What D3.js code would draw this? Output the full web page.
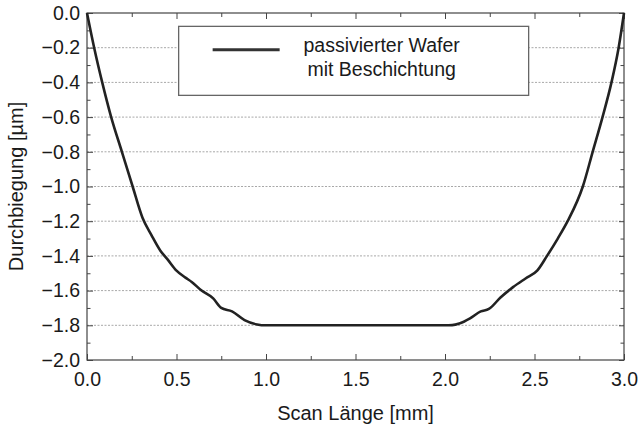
<!DOCTYPE html>
<html>
<head>
<meta charset="utf-8">
<script src="https://cdn.jsdelivr.net/npm/d3@7"></script>
<style>
  body { margin: 0; background: #fff; }
  text { font-family: "Liberation Sans", Arial, sans-serif; fill: #1a1a1a; }
</style>
</head>
<body>
<div id="chart"></div>
<script>
// scan position [mm] and deflection [µm]
const scanX = [0, 0.04, 0.085, 0.135, 0.195, 0.255, 0.31, 0.36, 0.41, 0.45, 0.5, 0.55, 0.585, 0.64, 0.705, 0.75, 0.81, 0.88, 0.95, 1.0,
               2.0, 2.04, 2.08, 2.14, 2.2, 2.245, 2.31, 2.38, 2.45, 2.515, 2.57, 2.63, 2.685, 2.77, 2.825, 2.88, 2.93, 2.97, 3.0];
const deflection = [0, -0.2, -0.4, -0.6, -0.8, -1.0, -1.18, -1.28, -1.37, -1.42, -1.485, -1.525, -1.55, -1.6, -1.645, -1.7, -1.72, -1.77, -1.795, -1.8,
                    -1.8, -1.799, -1.79, -1.76, -1.72, -1.706, -1.64, -1.58, -1.53, -1.485, -1.4, -1.3, -1.2, -1.0, -0.8, -0.6, -0.4, -0.2, 0];
const xTicks = [0, 0.5, 1.0, 1.5, 2.0, 2.5, 3.0];
const yTicks = [0, -0.2, -0.4, -0.6, -0.8, -1.0, -1.2, -1.4, -1.6, -1.8, -2.0];
const gridValues = [-0.2, -0.4, -0.6, -0.8, -1.0, -1.2, -1.4, -1.6, -1.8];
const legendLines = ["passivierter Wafer", "mit Beschichtung"];

const margin = {top: 13, right: 14, bottom: 68, left: 87},
    width = 638 - margin.left - margin.right,
    height = 428 - margin.top - margin.bottom;

const svg = d3.select("#chart")
  .append("svg")
    .attr("width", 638)
    .attr("height", 428)
  .append("g")
    .attr("transform", `translate(${margin.left},${margin.top})`);

const x = d3.scaleLinear().domain([0, 3]).range([0, width]);
const y = d3.scaleLinear().domain([-2, 0]).range([height, 0]);

// dotted grid
svg.selectAll(".grid")
  .data(gridValues)
  .enter()
  .append("line")
    .attr("x1", 0)
    .attr("x2", width)
    .attr("y1", d => y(d))
    .attr("y2", d => y(d))
    .attr("stroke", "#a8a8a8")
    .attr("stroke-width", 1)
    .attr("stroke-dasharray", "2,1.5");

const fmt = d3.format(".1f");

function style(g) {
  g.select(".domain").remove();
  g.selectAll("line").attr("stroke", "#444");
  g.selectAll("text").style("font-size", "19.5px").attr("fill", "#1a1a1a");
}

// minor ticks
svg.append("g").call(d3.axisLeft(y).tickValues(d3.range(-1.9, 0, 0.2)).tickSize(-3.5).tickFormat("")).call(style);
svg.append("g").attr("transform", `translate(${width},0)`)
  .call(d3.axisRight(y).tickValues(d3.range(-1.9, 0, 0.2)).tickSize(-3.5).tickFormat("")).call(style);
svg.append("g").attr("transform", `translate(0,${height})`)
  .call(d3.axisBottom(x).tickValues([0.25, 0.75, 1.25, 1.75, 2.25, 2.75]).tickSize(-4).tickFormat("")).call(style);
svg.append("g")
  .call(d3.axisTop(x).tickValues([0.25, 0.75, 1.25, 1.75, 2.25, 2.75]).tickSize(-4).tickFormat("")).call(style);

// major ticks + labels
svg.append("g")
  .call(d3.axisLeft(y).tickValues(yTicks).tickSize(-6).tickPadding(7).tickFormat(fmt))
  .call(style);
svg.append("g").attr("transform", `translate(${width},0)`)
  .call(d3.axisRight(y).tickValues(yTicks).tickSize(-5).tickFormat(""))
  .call(style);
svg.append("g").attr("transform", `translate(0,${height})`)
  .call(d3.axisBottom(x).tickValues(xTicks).tickSize(-6).tickPadding(12).tickFormat(fmt))
  .call(style);
svg.append("g")
  .call(d3.axisTop(x).tickValues(xTicks).tickSize(-6).tickFormat(""))
  .call(style);

// frame
svg.append("rect")
  .attr("width", width)
  .attr("height", height)
  .attr("fill", "none")
  .attr("stroke", "#444")
  .attr("stroke-width", 1.2);

// curve
svg.append("path")
  .datum(scanX.map((d, i) => [d, deflection[i]]))
  .attr("fill", "none")
  .attr("stroke", "#222")
  .attr("stroke-width", 2.6)
  .attr("stroke-linejoin", "round")
  .attr("d", d3.line()
    .x(d => x(d[0]))
    .y(d => y(d[1]))
    .curve(d3.curveMonotoneX));

// legend
const leg = svg.append("g").attr("transform", `translate(${x(0.512)},${y(-0.077)})`);
leg.append("rect")
  .attr("width", 350)
  .attr("height", 69)
  .attr("fill", "#fff")
  .attr("stroke", "#666")
  .attr("stroke-width", 1.3);
leg.append("line")
  .attr("x1", 34).attr("x2", 101)
  .attr("y1", 23.5).attr("y2", 23.5)
  .attr("stroke", "#333")
  .attr("stroke-width", 3);
leg.selectAll(".lt")
  .data(legendLines)
  .enter()
  .append("text")
    .attr("x", 203)
    .attr("y", (d, i) => 26 + i * 24)
    .attr("text-anchor", "middle")
    .style("font-size", "19.5px")
    .text(d => d);

// axis titles
svg.append("text")
  .attr("x", width / 2)
  .attr("y", height + 60)
  .attr("text-anchor", "middle")
  .style("font-size", "20px")
  .text("Scan Länge [mm]");

svg.append("text")
  .attr("transform", `translate(${23 - margin.left},${height / 2}) rotate(-90)`)
  .attr("text-anchor", "middle")
  .style("font-size", "20px")
  .text("Durchbiegung [µm]");
</script>
</body>
</html>
